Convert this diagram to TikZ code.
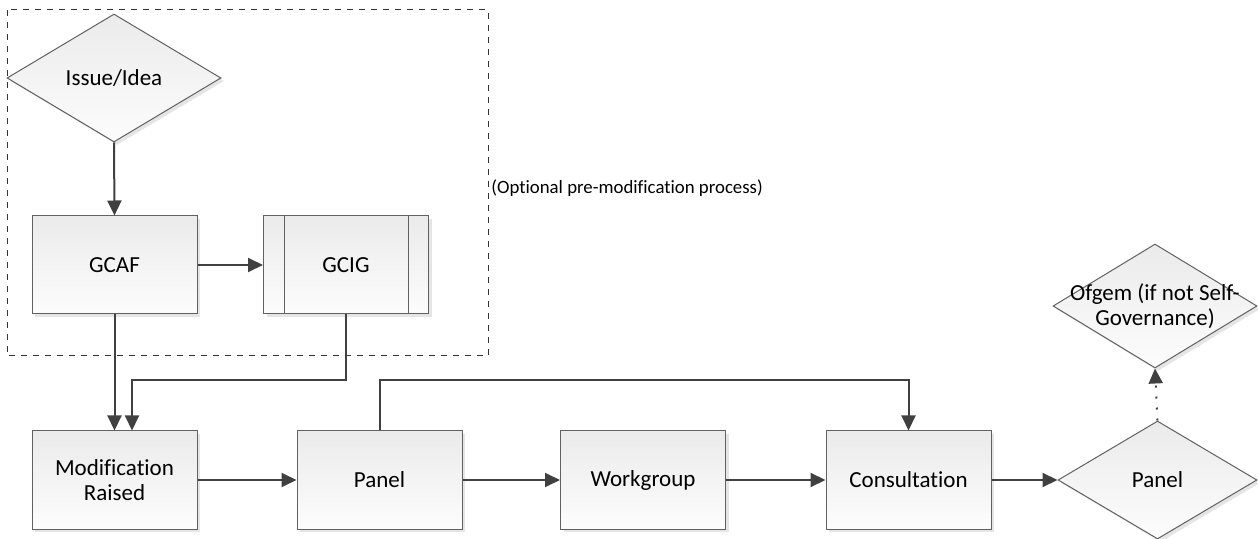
\documentclass[tikz,border=0pt]{standalone}
\usepackage{fontspec}
\setmainfont{Carlito}[Ligatures=NoCommon]
\usetikzlibrary{shapes.geometric,arrows.meta,shadows}
\begin{document}
\begin{tikzpicture}[x=0.5pt,y=-0.5pt,
  every node/.style={font=\fontsize{11.5pt}{12.5pt}\selectfont},
  procbox/.style={draw=black!62,line width=0.5pt,top color=black!8,bottom color=black!1,
    minimum width=82.5pt,minimum height=49pt,inner sep=0pt,align=center,
    drop shadow={shadow xshift=1.5pt,shadow yshift=-1.5pt,fill=black!10,opacity=1}},
  decbox/.style={diamond,draw=black!62,line width=0.5pt,top color=black!8,bottom color=black!1,
    inner sep=0pt,align=center,
    drop shadow={shadow xshift=1.5pt,shadow yshift=-1.5pt,fill=black!10,opacity=1}},
  conn/.style={draw=black!75,line width=1pt,-{Triangle[length=7.5pt,width=7pt]}},
  dotconn/.style={draw=black!75,line width=1pt,dash pattern=on 1pt off 4.5pt,-{Triangle[length=7.5pt,width=7pt]}}
]
\useasboundingbox (0,0) rectangle (1258,539);
\draw[black!80,line width=0.5pt,dashed] (7,10) rectangle (488,356);
\node[decbox,minimum width=107pt,minimum height=64pt] (issue) at (114,78) {Issue/Idea};
\node[procbox] (gcaf) at (114.5,265) {GCAF};
\node[procbox] (gcig) at (346,265) {GCIG};
\draw[black!62,line width=0.5pt] ([xshift=10.5pt]gcig.north west) -- ([xshift=10.5pt]gcig.south west)
  ([xshift=-10.5pt]gcig.north east) -- ([xshift=-10.5pt]gcig.south east);
\node[procbox] (mod) at (114.5,480) {Modification\\Raised};
\node[procbox] (panel) at (379.5,480) {Panel};
\node[procbox] (work) at (643,480) {Workgroup};
\node[procbox] (cons) at (908.5,480) {Consultation};
\node[decbox,minimum width=99.5pt,minimum height=59pt] (pand) at (1157.5,480) {Panel};
\node[decbox,minimum width=102pt,minimum height=62pt] (ofgem) at (1155,306) {};
\node[align=center,font=\fontsize{11.5pt}{12.5pt}\selectfont] (ofgemtext) at (1155,306) {Ofgem (if not Self-\\Governance)};
\node[anchor=west,font=\fontsize{9.4pt}{11pt}\selectfont,inner sep=0pt] (opt) at (491,188) {(Optional pre-modification process)};
\coordinate (mA) at ([xshift=-0.25pt]mod.north);
\coordinate (mB) at ([xshift=8.75pt]mod.north);
\draw[conn] (issue.south) -- (gcaf.north);
\draw[conn] (gcaf.east) -- (gcig.west);
\draw[conn] (gcaf.south) -- (gcaf.south |- mA);
\draw[conn] (gcig.south) |- (132,380) -- (mB);
\draw[conn] (panel.north) |- (908.5,380) -- (cons.north);
\draw[conn] (mod.east) -- (panel.west);
\draw[conn] (panel.east) -- (work.west);
\draw[conn] (work.east) -- (cons.west);
\draw[conn] (cons.east) -- (pand.west);
\draw[dotconn] (pand.north) -- (ofgem.south);
\end{tikzpicture}
\end{document}
